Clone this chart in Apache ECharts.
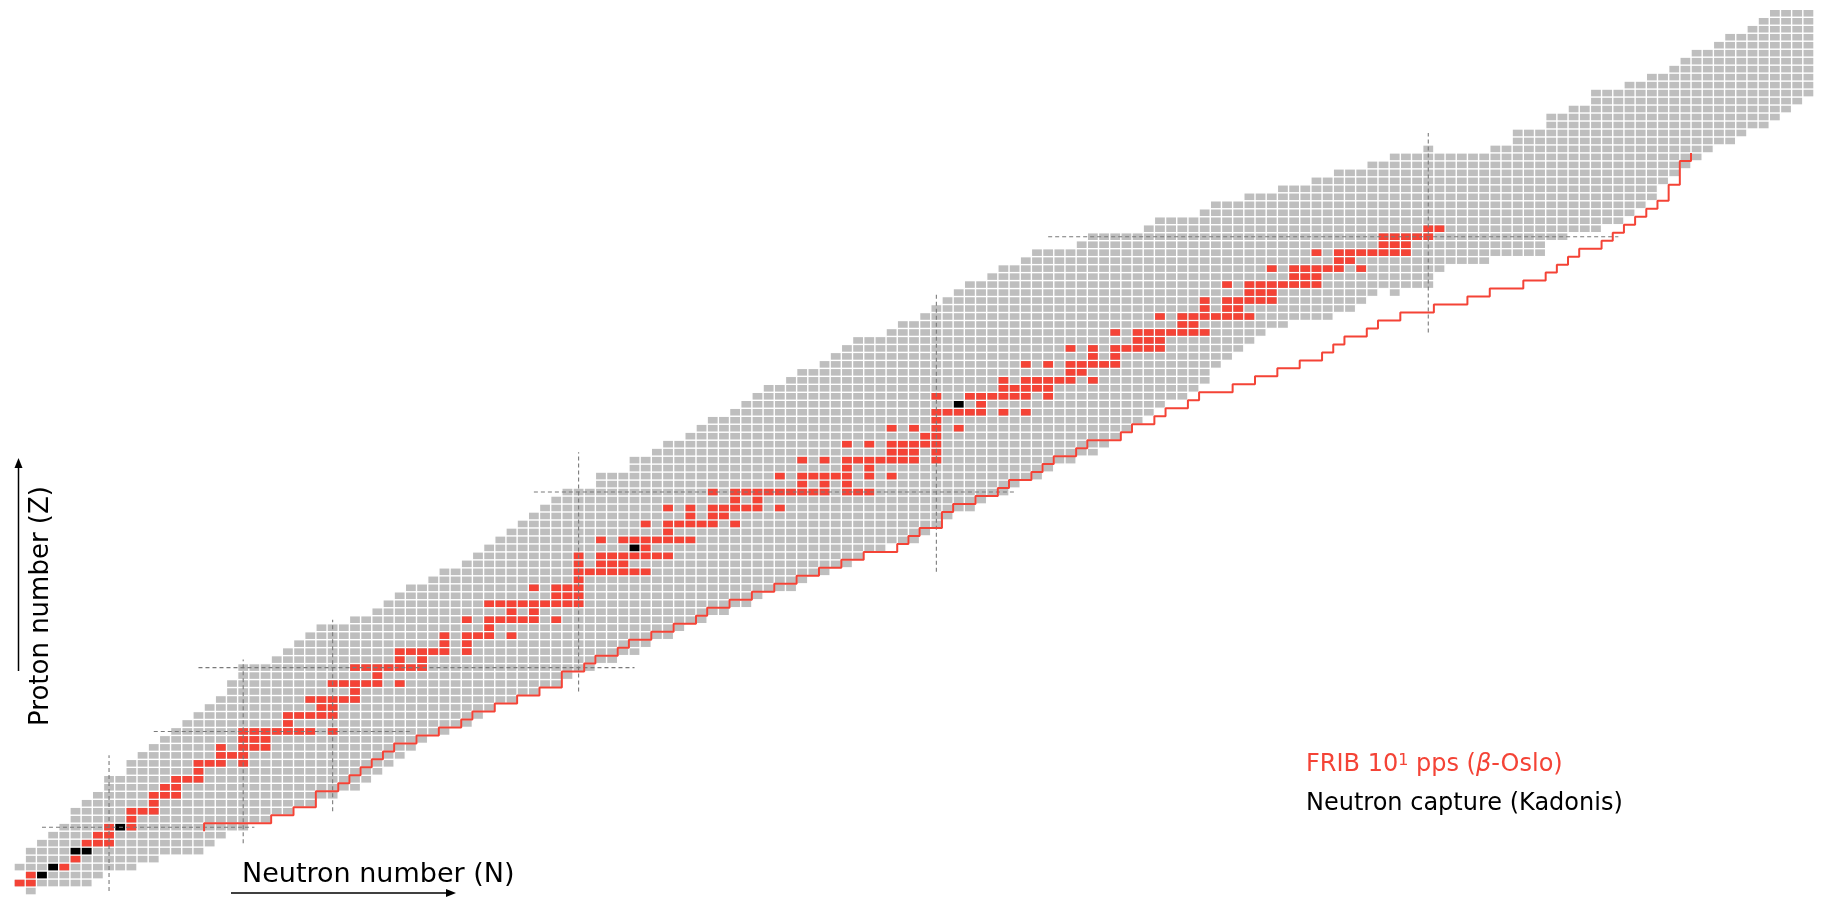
<!DOCTYPE html>
<html>
<head>
<meta charset="utf-8">
<script src="https://cdn.jsdelivr.net/npm/echarts@6/dist/echarts.min.js"></script>
<style>
  html, body { margin: 0; padding: 0; background: #ffffff; }
  #chart { width: 1828px; height: 899px; }
</style>
</head>
<body>
<div id="chart"></div>
<script>
// Known nuclides: for each proton number Z (array index) the lightest and heaviest N shown
const nLow = [
  1, 0, 1, 0, 1, 1, 2, 3, 4, 5,            // Z 0-9
  5, 6, 7, 8, 8, 10, 10, 11, 12, 13,       // Z 10-19
  14, 15, 16, 17, 18, 19, 19, 20, 20, 23,  // Z 20-29
  24, 25, 26, 27, 30, 32, 33, 34, 35, 37,  // Z 30-39
  38, 40, 41, 42, 43, 44, 45, 46, 47, 48,  // Z 40-49
  49, 52, 52, 55, 55, 57, 58, 60, 61, 62,  // Z 50-59
  64, 65, 66, 67, 69, 70, 72, 73, 74, 75,  // Z 60-69
  78, 79, 81, 82, 83, 84, 85, 87, 88, 90,  // Z 70-79
  91, 95, 96, 101, 102, 106, 107, 110, 113, 116, // Z 80-89
  118, 121, 123, 132, 134, 134, 137, 137, 139, 141, // Z 90-99
  141, 144, 146, 148, 149, 150, 152, 153, 155, 156, // Z 100-109
  157                                       // Z 110
];
const nHigh = [
  1, 6, 7, 10, 12, 16, 17, 18, 20, 22,      // Z 0-9
  24, 26, 28, 30, 31, 32, 33, 34, 35, 36,   // Z 10-19
  38, 40, 41, 42, 44, 46, 48, 49, 51, 53,   // Z 20-29
  55, 56, 58, 59, 61, 63, 65, 66, 69, 70,   // Z 30-39
  72, 74, 75, 77, 80, 81, 82, 83, 85, 86,   // Z 40-49
  88, 89, 91, 92, 94, 96, 97, 98, 99, 100,  // Z 50-59
  101, 102, 104, 105, 106, 106, 107, 108, 109, 110, // Z 60-69
  111, 113, 117, 119, 120, 121, 126, 126, 127, 131, // Z 70-79
  136, 136, 138, 141, 143, 144, 145, 146, 146, 147, // Z 80-89
  148, 149, 150, 151, 153, 154, 156, 157, 158, 159, // Z 90-99
  160, 160, 160, 160, 160, 160, 160, 160, 160, 160, // Z 100-109
  160                                        // Z 110
];
// isolated nuclides outside the contiguous ranges: [N, Z]
const isolatedCells = [[126, 93], [123, 75]];

// FRIB 10^1 pps (beta-Oslo) nuclides, listed as N values per Z
const fribN = {
  1: [0, 1], 2: [1], 3: [4], 4: [5],
  6: [6, 7, 8], 7: [7, 8], 8: [8, 10], 9: [10], 10: [10, 11, 12], 11: [12],
  12: [12, 13, 14], 13: [13, 14], 14: [14, 15, 16], 15: [16], 16: [16, 17, 18, 20],
  17: [18, 19, 20], 18: [18, 20, 21, 22], 19: [20, 21, 22],
  20: [20, 21, 22, 23, 24, 25, 26, 28], 21: [24], 22: [24, 25, 26, 27, 28],
  23: [27, 28], 24: [26, 27, 28, 29, 30], 25: [30], 26: [28, 29, 30, 31, 32, 34],
  27: [32], 28: [30, 31, 32, 33, 34, 35, 36], 29: [34, 36], 30: [34, 35, 36, 37, 38, 40],
  31: [38, 40], 32: [38, 40, 41, 42, 44], 33: [42], 34: [40, 42, 43, 44, 45, 46, 48],
  35: [44, 46], 36: [42, 43, 44, 45, 46, 47, 48, 49, 50], 37: [48, 49, 50],
  38: [46, 48, 49, 50], 39: [50], 40: [50, 51, 52, 53, 54, 55, 56], 41: [50, 52, 53, 54],
  42: [50, 52, 53, 54, 55, 56, 57, 58], 43: [56], 44: [52, 54, 55, 56, 57, 58, 59, 60],
  45: [58], 46: [56, 58, 59, 60, 61, 62, 64], 47: [60, 62, 63],
  48: [58, 60, 62, 63, 64, 65, 66, 68], 49: [64, 66],
  50: [62, 64, 65, 66, 67, 68, 69, 70, 71, 72, 74, 75, 76], 51: [70, 72, 74],
  52: [68, 70, 71, 72, 73, 74, 76, 78], 53: [74, 76],
  54: [70, 72, 74, 75, 76, 77, 78, 79, 80, 82], 55: [78, 79, 80, 82],
  56: [74, 76, 78, 79, 80, 81, 82], 57: [81, 82], 58: [78, 80, 82, 84], 59: [82],
  60: [82, 83, 84, 85, 86, 88, 90], 61: [86], 62: [82, 85, 86, 87, 88, 89, 90, 92],
  63: [88, 89, 90, 91, 92], 64: [88, 90, 91, 92, 93, 94, 96], 65: [94, 95],
  66: [90, 92, 94, 95, 96, 97, 98], 67: [96, 98], 68: [94, 96, 98, 99, 100, 101, 102],
  69: [100, 101, 102], 70: [98, 100, 101, 102, 103, 104, 105, 106], 71: [104, 105],
  72: [102, 104, 105, 106, 107, 108, 109, 110], 73: [106, 108, 109],
  74: [106, 108, 109, 110, 111, 112], 75: [110, 111, 112],
  76: [108, 110, 111, 112, 113, 114, 115, 116], 77: [114, 115, 116],
  78: [112, 114, 115, 116, 117, 118, 120], 79: [118, 119],
  80: [116, 118, 119, 120, 121, 122, 123, 124], 81: [122, 123, 124],
  82: [122, 123, 124, 125, 126], 83: [126, 127]
};
// Neutron capture (Kadonis) nuclides: [N, Z]
const kadonisCells = [[2, 2], [3, 3], [5, 5], [6, 5], [9, 8], [55, 43], [84, 61]];

// Reach boundary: last N inside the line for each Z, starting at Z = 8
const reachFirstZ = 8;
const reachEdgeN = [
  16, 22, 24, 26, 26, 28, 29, 30, 31, 32, 33, 35,       // Z 8-19
  37, 39, 40, 42, 44, 46, 48, 48, 50, 51,               // Z 20-29
  53, 54, 56, 58, 60, 61, 63, 65, 67, 69,               // Z 30-39
  71, 73, 75, 78, 79, 80, 82, 82, 83, 85,               // Z 40-49
  87, 88, 90, 91, 92, 94, 95, 98, 99, 101,              // Z 50-59
  102, 104, 105, 108, 110, 112, 114, 116, 117, 118,     // Z 60-69
  120, 121, 123, 126, 129, 131, 134, 136, 137, 138,     // Z 70-79
  139, 141, 142, 143, 144, 145, 146, 147, 147, 148,     // Z 80-89
  148, 148, 149                                         // Z 90-92
];

// Magic numbers and the extent of their guide lines
const magicN = [8, 20, 28, 50, 82, 126];
const magicNZRange = [[0, 17], [6, 29], [10, 34], [25, 55], [40, 75], [70, 95]];
const magicZ = [8, 20, 28, 50, 82];
const magicZNRange = [[2, 21], [12, 35], [16, 55], [46, 89], [92, 143]];

const GRAY = '#bebebe';
const RED = '#f44336';
const BLACK = '#000000';
const FONT = '"DejaVu Sans", sans-serif';

// ---- build series data from the arrays above ----
const grayData = [];
for (let z = 0; z < nLow.length; z++) {
  for (let n = nLow[z]; n <= nHigh[z]; n++) grayData.push([n, z]);
}
isolatedCells.forEach(c => grayData.push(c));

const redData = [];
Object.keys(fribN).forEach(k => {
  const z = +k;
  fribN[k].forEach(n => redData.push([n, z]));
});

const reachLine = [];
reachEdgeN.forEach((n, i) => {
  const z = reachFirstZ + i;
  reachLine.push([n + 0.5, z - 0.5]);
  reachLine.push([n + 0.5, z + 0.5]);
});

function cellRenderer(color) {
  return function (params, api) {
    const n = api.value(0), z = api.value(1);
    const a = api.coord([n - 0.5, z + 0.5]);
    const b = api.coord([n + 0.5, z - 0.5]);
    const g = 0.7;
    return {
      type: 'rect',
      shape: { x: a[0] + g, y: a[1] + g, width: b[0] - a[0] - 2 * g, height: b[1] - a[1] - 2 * g },
      style: { fill: color }
    };
  };
}

const dashStyle = { color: '#7a7a7a', width: 1.1, type: [4, 3] };
const guideSeries = [];
magicN.forEach((n, i) => {
  guideSeries.push({
    type: 'line', data: [[n, magicNZRange[i][0]], [n, magicNZRange[i][1]]],
    symbol: 'none', lineStyle: dashStyle, silent: true, z: 4
  });
});
magicZ.forEach((z, i) => {
  guideSeries.push({
    type: 'line', data: [[magicZNRange[i][0], z], [magicZNRange[i][1], z]],
    symbol: 'none', lineStyle: dashStyle, silent: true, z: 4
  });
});

const chart = echarts.init(document.getElementById('chart'), null, { renderer: 'canvas' });
chart.setOption({
  animation: false,
  backgroundColor: '#ffffff',
  grid: { left: 2.83, top: 5.3, width: 1822.34, height: 896, containLabel: false },
  xAxis: { type: 'value', min: -1.5, max: 161.5, show: false },
  yAxis: { type: 'value', min: -1, max: 111, show: false },
  series: [
    { type: 'custom', renderItem: cellRenderer(GRAY), data: grayData, z: 1, silent: true },
    { type: 'custom', renderItem: cellRenderer(RED), data: redData, z: 2, silent: true },
    { type: 'custom', renderItem: cellRenderer(BLACK), data: kadonisCells, z: 3, silent: true },
    ...guideSeries,
    {
      type: 'line', data: reachLine, symbol: 'none', silent: true, z: 5,
      lineStyle: { color: RED, width: 2 }
    }
  ],
  graphic: [
    // N axis arrow and label
    { type: 'line', shape: { x1: 231, y1: 893, x2: 448, y2: 893 }, style: { stroke: '#000', lineWidth: 1.5 } },
    { type: 'polygon', shape: { points: [[456, 893], [446, 889], [446, 897]] }, style: { fill: '#000' } },
    { type: 'text', x: 242, y: 875, style: { text: 'Neutron number (N)', font: '27px ' + FONT, fill: '#000', textAlign: 'left', textVerticalAlign: 'middle' } },
    // Z axis arrow and label
    { type: 'line', shape: { x1: 18.5, y1: 671, x2: 18.5, y2: 466 }, style: { stroke: '#000', lineWidth: 1.5 } },
    { type: 'polygon', shape: { points: [[18.5, 458], [14.5, 468], [22.5, 468]] }, style: { fill: '#000' } },
    { type: 'text', x: 41, y: 606, rotation: Math.PI / 2, style: { text: 'Proton number (Z)', font: '26px ' + FONT, fill: '#000', textAlign: 'center', textVerticalAlign: 'middle' } },
    // legend texts
    {
      type: 'text', x: 1306, y: 765,
      style: {
        text: 'FRIB 10{sup|1} pps ({it|β}-Oslo)',
        fontSize: 24, fontFamily: 'DejaVu Sans', fill: RED,
        textAlign: 'left', textVerticalAlign: 'middle',
        rich: {
          sup: { fontSize: 16, fontFamily: 'DejaVu Sans', fill: RED, verticalAlign: 'top' },
          it: { fontSize: 24, fontFamily: 'DejaVu Sans', fontStyle: 'italic', fill: RED }
        }
      }
    },
    { type: 'text', x: 1306, y: 804, style: { text: 'Neutron capture (Kadonis)', font: '24px ' + FONT, fill: '#000', textAlign: 'left', textVerticalAlign: 'middle' } }
  ]
});
</script>
</body>
</html>
